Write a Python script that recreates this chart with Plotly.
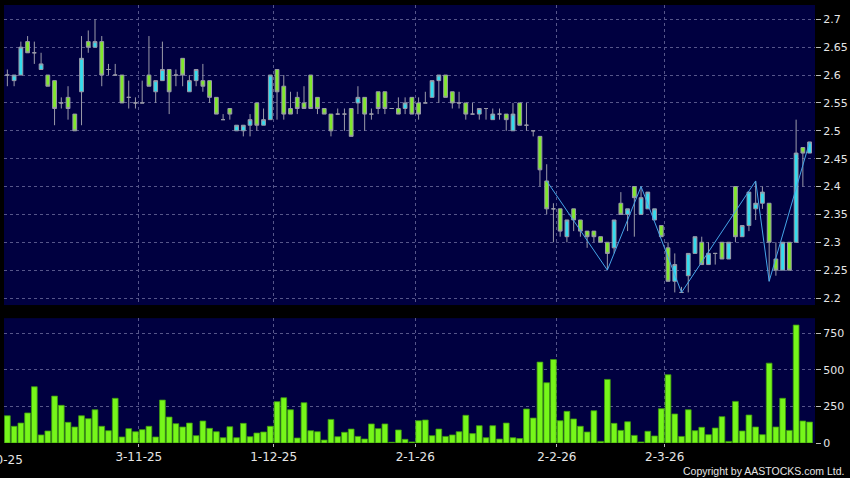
import plotly.graph_objects as go

# one candle per trading day, x = day index (0 = first visible day)
day_idx = list(range(120))

opens = [
    2.60, 2.59, 2.60, 2.66, 2.64, 2.61, 2.60, 2.59, 2.55, 2.56,
    2.53, 2.57, 2.66, 2.65, 2.66, 2.61, 2.60, 2.60, 2.56, 2.55,
    2.55, 2.60, 2.57, 2.59, 2.61, 2.60, 2.63, 2.57, 2.59, 2.59,
    2.59, 2.56, 2.52, 2.54, 2.50, 2.50, 2.51, 2.55, 2.51, 2.52,
    2.61, 2.58, 2.54, 2.56, 2.55, 2.60, 2.56, 2.54, 2.53, 2.53,
    2.53, 2.54, 2.55, 2.56, 2.53, 2.57, 2.57, 2.54, 2.54, 2.54,
    2.56, 2.55, 2.55, 2.56, 2.59, 2.60, 2.57, 2.55, 2.55, 2.53,
    2.53, 2.54, 2.52, 2.53, 2.53, 2.50, 2.55, 2.51, 2.50, 2.49,
    2.41, 2.36, 2.36, 2.31, 2.36, 2.34, 2.32, 2.32, 2.31, 2.30,
    2.29, 2.37, 2.35, 2.40, 2.35, 2.36, 2.34, 2.33, 2.29, 2.23,
    2.21, 2.24, 2.28, 2.30, 2.26, 2.28, 2.30, 2.27, 2.40, 2.31,
    2.33, 2.36, 2.37, 2.37, 2.27, 2.25, 2.30, 2.30, 2.47, 2.46,
]
highs = [
    2.61, 2.60, 2.66, 2.67, 2.66, 2.64, 2.60, 2.59, 2.56, 2.58,
    2.53, 2.67, 2.68, 2.70, 2.67, 2.62, 2.62, 2.60, 2.59, 2.56,
    2.59, 2.67, 2.59, 2.66, 2.61, 2.61, 2.63, 2.60, 2.61, 2.62,
    2.59, 2.56, 2.53, 2.54, 2.51, 2.51, 2.53, 2.55, 2.54, 2.60,
    2.61, 2.60, 2.57, 2.57, 2.58, 2.60, 2.56, 2.54, 2.53, 2.54,
    2.54, 2.54, 2.58, 2.56, 2.54, 2.57, 2.57, 2.54, 2.56, 2.56,
    2.56, 2.56, 2.57, 2.59, 2.60, 2.60, 2.57, 2.57, 2.55, 2.55,
    2.54, 2.54, 2.54, 2.54, 2.53, 2.55, 2.55, 2.55, 2.50, 2.49,
    2.44, 2.37, 2.36, 2.34, 2.36, 2.34, 2.32, 2.32, 2.31, 2.30,
    2.34, 2.39, 2.36, 2.40, 2.40, 2.39, 2.36, 2.33, 2.30, 2.28,
    2.22, 2.28, 2.31, 2.31, 2.30, 2.28, 2.30, 2.30, 2.40, 2.33,
    2.39, 2.41, 2.40, 2.37, 2.30, 2.30, 2.30, 2.52, 2.47, 2.48,
]
lows = [
    2.58, 2.58, 2.60, 2.64, 2.62, 2.61, 2.58, 2.51, 2.54, 2.52,
    2.50, 2.51, 2.64, 2.65, 2.58, 2.60, 2.60, 2.55, 2.54, 2.54,
    2.55, 2.58, 2.55, 2.59, 2.53, 2.58, 2.58, 2.57, 2.58, 2.57,
    2.55, 2.53, 2.52, 2.52, 2.50, 2.49, 2.49, 2.50, 2.51, 2.52,
    2.52, 2.52, 2.53, 2.53, 2.54, 2.54, 2.53, 2.53, 2.49, 2.53,
    2.50, 2.49, 2.53, 2.50, 2.52, 2.53, 2.53, 2.54, 2.53, 2.53,
    2.53, 2.52, 2.55, 2.56, 2.55, 2.56, 2.54, 2.54, 2.52, 2.53,
    2.52, 2.52, 2.52, 2.52, 2.50, 2.50, 2.51, 2.50, 2.49, 2.40,
    2.35, 2.30, 2.31, 2.30, 2.32, 2.31, 2.29, 2.30, 2.30, 2.25,
    2.28, 2.35, 2.32, 2.31, 2.35, 2.36, 2.34, 2.31, 2.23, 2.21,
    2.21, 2.21, 2.28, 2.26, 2.26, 2.26, 2.27, 2.27, 2.30, 2.31,
    2.32, 2.34, 2.36, 2.23, 2.24, 2.25, 2.25, 2.30, 2.40, 2.46,
]
closes = [
    2.60, 2.60, 2.65, 2.64, 2.64, 2.62, 2.58, 2.54, 2.55, 2.54,
    2.50, 2.63, 2.65, 2.66, 2.60, 2.61, 2.60, 2.55, 2.56, 2.55,
    2.55, 2.58, 2.59, 2.61, 2.57, 2.60, 2.60, 2.59, 2.61, 2.58,
    2.56, 2.53, 2.52, 2.53, 2.51, 2.51, 2.52, 2.51, 2.52, 2.60,
    2.57, 2.53, 2.53, 2.54, 2.54, 2.54, 2.54, 2.53, 2.50, 2.53,
    2.53, 2.49, 2.56, 2.53, 2.53, 2.54, 2.54, 2.54, 2.53, 2.55,
    2.53, 2.53, 2.55, 2.59, 2.60, 2.56, 2.55, 2.55, 2.53, 2.53,
    2.54, 2.54, 2.53, 2.53, 2.52, 2.53, 2.51, 2.51, 2.50, 2.43,
    2.36, 2.36, 2.32, 2.34, 2.34, 2.32, 2.31, 2.31, 2.30, 2.28,
    2.34, 2.35, 2.36, 2.38, 2.38, 2.39, 2.36, 2.31, 2.23, 2.26,
    2.21, 2.28, 2.31, 2.26, 2.28, 2.28, 2.27, 2.30, 2.31, 2.33,
    2.39, 2.37, 2.39, 2.30, 2.25, 2.30, 2.25, 2.46, 2.46, 2.48,
]
volumes = [
    186, 114, 136, 205, 384, 55, 82, 320, 257, 141,
    109, 186, 166, 227, 114, 84, 305, 41, 98, 77,
    91, 114, 41, 293, 177, 132, 109, 136, 50, 150,
    100, 77, 36, 111, 36, 134, 43, 68, 75, 114,
    282, 309, 227, 34, 275, 84, 77, 20, 161, 43,
    73, 95, 45, 27, 130, 98, 130, 5, 89, 25,
    7, 152, 157, 50, 95, 45, 55, 77, 189, 64,
    118, 36, 118, 27, 136, 36, 30, 232, 170, 552,
    411, 570, 152, 216, 164, 114, 75, 220, 11, 434,
    134, 86, 145, 52, 7, 80, 48, 234, 466, 198,
    45, 227, 84, 107, 57, 102, 180, 11, 284, 82,
    191, 109, 57, 545, 109, 305, 86, 805, 150, 143,
]

# zigzag swing points
zz_idx = [80, 89, 94, 100, 111, 113, 119]
zz_price = [2.41, 2.25, 2.40, 2.21, 2.41, 2.23, 2.48]

date_ticks = [19.5, 39.5, 60.5, 81.5, 97.5]
date_labels = ["3-11-25", "1-12-25", "2-1-26", "2-2-26", "2-3-26"]
first_label = "2-10-25"

price_ticks = [2.2, 2.25, 2.3, 2.35, 2.4, 2.45, 2.5, 2.55, 2.6, 2.65, 2.7]
price_labels = ["2.2", "2.25", "2.3", "2.35", "2.4", "2.45", "2.5", "2.55", "2.6", "2.65", "2.7"]
vol_ticks = [0, 250, 500, 750]
vol_labels = ["0", "250", "500", "750"]

NAVY = "#000040"
GRID = "#56568a"
WICK = "#9a9aa8"
UP = "#33dcee"
DOWN = "#80e82c"
TXT = "#e6e6e6"
FONT = "DejaVu Sans"

fig = go.Figure()

fig.add_trace(go.Candlestick(
    x=day_idx, open=opens, high=highs, low=lows, close=closes,
    increasing=dict(fillcolor=UP, line=dict(color=WICK, width=1)),
    decreasing=dict(fillcolor=DOWN, line=dict(color=WICK, width=1)),
    xaxis="x", yaxis="y", showlegend=False, hoverinfo="skip",
))

fig.add_trace(go.Scatter(
    x=zz_idx, y=zz_price, mode="lines",
    line=dict(color="#45a4e8", width=1),
    xaxis="x", yaxis="y", showlegend=False, hoverinfo="skip",
))

fig.add_trace(go.Bar(
    x=day_idx, y=volumes,
    marker=dict(color="#76f61a", line=dict(color="#3f9a10", width=0.8)),
    xaxis="x2", yaxis="y2", showlegend=False, hoverinfo="skip",
))

xcommon = dict(
    range=[-0.5, 119.8], tickmode="array", tickvals=date_ticks,
    showgrid=True, gridcolor=GRID, griddash="3px,3px", gridwidth=1,
    zeroline=False, showline=False, automargin=False,
)
ycommon = dict(
    side="right", tickmode="array", ticks="outside", ticklen=5,
    tickcolor="#bbbbbb", showgrid=True, gridcolor=GRID,
    griddash="3px,3px", gridwidth=1, zeroline=False, showline=False,
    automargin=False, tickfont=dict(size=11, color=TXT),
)

fig.update_layout(
    width=850, height=478,
    margin=dict(l=4, r=35, t=5, b=35, autoexpand=False),
    paper_bgcolor="#000000",
    plot_bgcolor=NAVY,
    boxgap=0.2,
    bargap=0.15,
    font=dict(family=FONT, color=TXT, size=11),
    xaxis=dict(**xcommon, anchor="y", showticklabels=False, ticks="",
               rangeslider=dict(visible=False)),
    yaxis=dict(**ycommon, domain=[0.315, 1.0], range=[2.1874, 2.7257],
               tickvals=price_ticks, ticktext=price_labels),
    xaxis2=dict(**xcommon, anchor="y2", ticktext=date_labels,
                ticks="outside", ticklen=3, tickcolor="#bbbbbb",
                tickfont=dict(size=12, color=TXT)),
    yaxis2=dict(**ycommon, domain=[0.0, 0.285], range=[0, 852],
                tickvals=vol_ticks, ticktext=vol_labels),
    annotations=[
        dict(text=first_label, xref="paper", yref="paper", x=-0.005, y=-0.018,
             xanchor="center", yanchor="top", showarrow=False,
             font=dict(size=12, color=TXT)),
        dict(text="Copyright by AASTOCKS.com Ltd.", xref="paper", yref="paper",
             x=1.0382, y=-0.064, xanchor="right", yanchor="middle",
             showarrow=False, font=dict(family="Liberation Sans", size=10.5, color=TXT)),
    ],
)

# the page body has a default 8px margin; drop it so the figure sits at 0,0
fig.write_html("out.html", config={"displayModeBar": False},
               post_script="document.body.style.margin='0px';")
